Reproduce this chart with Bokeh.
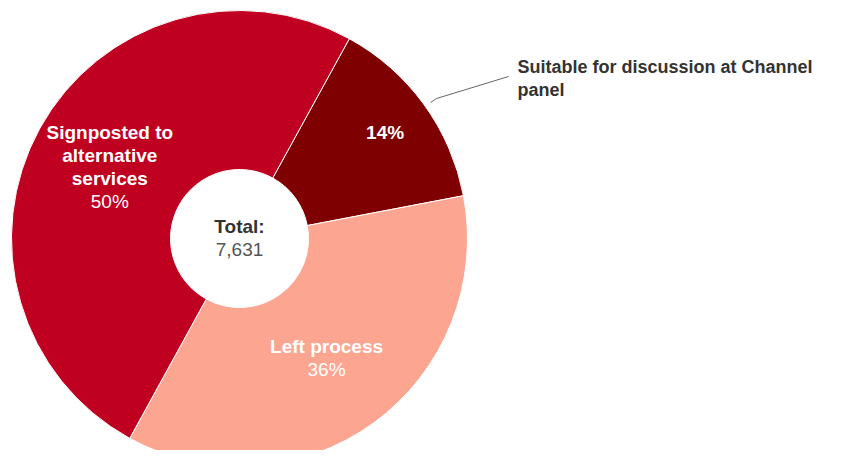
import numpy as np
from bokeh.plotting import figure
from bokeh.models import ColumnDataSource
from bokeh.core.properties import value
from bokeh.embed import file_html
from bokeh.resources import INLINE

# ---- data ----
categories = ["Suitable for discussion at Channel panel", "Left process", "Signposted to alternative services"]
counts = [1068, 2747, 3816]
colors = ["#7f0000", "#fca590", "#c00021"]
total = sum(counts)

W, H = 827, 450
p = figure(width=W, height=H, output_backend="svg", toolbar_location=None,
           x_range=(0, W), y_range=(0, H), min_border=0, outline_line_color=None)
p.axis.visible = False
p.grid.visible = False
p.background_fill_color = "white"
p.border_fill_color = "white"

def Y(y):  # top-down pixel position -> data y
    return H - y

cx, cy = 239, Y(238)
R, r_in = 228, 69
start_deg = 61.2

fr = np.array(counts) / total
ends = start_deg - np.concatenate([[0], np.cumsum(fr)[:-1]]) * 360
starts = ends - fr * 360
src = ColumnDataSource(dict(start=np.radians(starts), end=np.radians(ends), color=colors))
p.annular_wedge(x=cx, y=cy, inner_radius=r_in, outer_radius=R, start_angle="start", end_angle="end",
                fill_color="color", line_color="white", line_width=1, source=src)

mids = np.radians((starts + ends) / 2)
pct = [f"{round(f*100)}%" for f in fr]
font = value("Liberation Sans")
fs = "19px"

# 14% label
d0 = 180
p.text(x=[cx + d0*np.cos(mids[0])], y=[cy + d0*np.sin(mids[0])], text=[pct[0]],
       text_color="white", text_font=font, text_font_size=fs, text_font_style="bold",
       text_align="center", text_baseline="middle")

# Left process
d1 = 148
x1, y1 = cx + d1*np.cos(mids[1]), cy + d1*np.sin(mids[1])
p.text(x=[x1], y=[y1 + 11.5], text=[categories[1]], text_color="white", text_font=font,
       text_font_size=fs, text_font_style="bold", text_align="center", text_baseline="middle")
p.text(x=[x1], y=[y1 - 11.5], text=[pct[1]], text_color="white", text_font=font,
       text_font_size=fs, text_align="center", text_baseline="middle")

# Signposted
d2 = 148
x2, y2 = cx + d2*np.cos(mids[2]), cy + d2*np.sin(mids[2])
lines = ["Signposted to", "alternative", "services"]
for i, ln in enumerate(lines):
    p.text(x=[x2], y=[y2 + 34.5 - 23*i], text=[ln], text_color="white", text_font=font,
           text_font_size=fs, text_font_style="bold", text_align="center", text_baseline="middle")
p.text(x=[x2], y=[y2 + 34.5 - 23*3], text=[pct[2]], text_color="white", text_font=font,
       text_font_size=fs, text_align="center", text_baseline="middle")

# center total
p.text(x=[cx], y=[Y(226)], text=["Total:"], text_color="#333333", text_font=font,
       text_font_size=fs, text_font_style="bold", text_align="center", text_baseline="middle")
p.text(x=[cx], y=[Y(249)], text=[f"{total:,}"], text_color="#555555", text_font=font,
       text_font_size=fs, text_align="center", text_baseline="middle")

# connector + external label for the small slice
p.line(x=[430, 436, 508], y=[Y(102), Y(98), Y(76)], line_color="#666666", line_width=1)
p.text(x=[517, 517], y=[Y(66), Y(89)], text=["Suitable for discussion at Channel", "panel"],
       text_color="#333333", text_font=font, text_font_size="18px", text_font_style="bold",
       text_align="left", text_baseline="middle")

open("out.html", "w").write(file_html(p, INLINE))
